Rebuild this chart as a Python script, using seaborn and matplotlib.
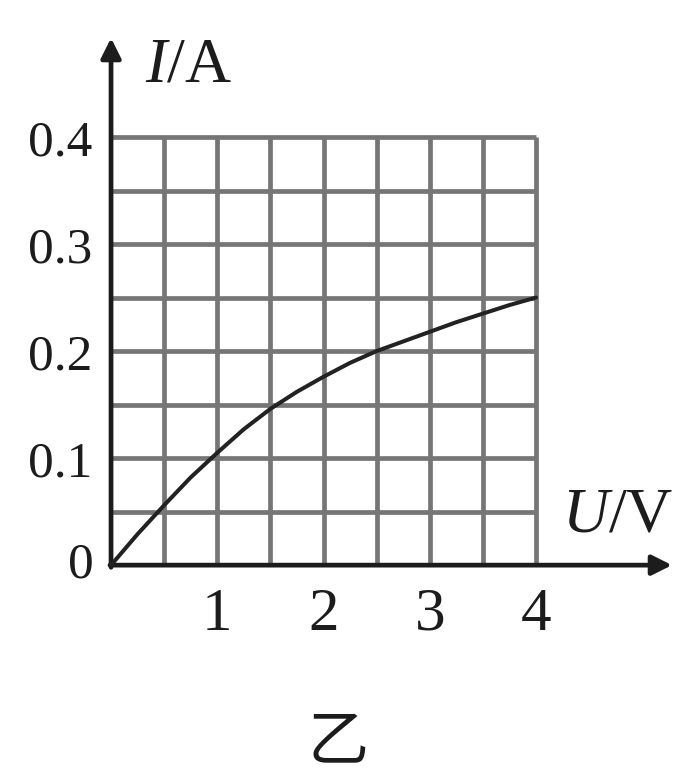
import numpy as np
import matplotlib
matplotlib.use("Agg")
import matplotlib.pyplot as plt
import seaborn as sns

# I-U characteristic of the lamp (U in volts, I in amperes)
voltage = [0, 0.25, 0.5, 0.75, 1.0, 1.25, 1.5, 1.75, 2.0, 2.25, 2.5,
           2.75, 3.0, 3.25, 3.5, 3.75, 4.0]
current = [0, 0.029, 0.056, 0.082, 0.105, 0.127, 0.146, 0.162, 0.176, 0.189, 0.200,
           0.209, 0.218, 0.227, 0.235, 0.243, 0.250]

x_ticks = [1, 2, 3, 4]
x_tick_labels = ["1", "2", "3", "4"]
y_ticks = [0.1, 0.2, 0.3, 0.4]
y_tick_labels = ["0.1", "0.2", "0.3", "0.4"]

u_max, i_max = 4.0, 0.4
u_step, i_step = 0.5, 0.05

sns.set_style("white")
plt.rcParams["font.family"] = ["Liberation Serif", "Noto Sans CJK SC", "DejaVu Sans"]
plt.rcParams["mathtext.fontset"] = "custom"
plt.rcParams["mathtext.rm"] = "Liberation Serif"
plt.rcParams["mathtext.it"] = "Liberation Serif:italic"

fig = plt.figure(figsize=(6.75, 7.76), dpi=100)
ax = fig.add_axes([0, 0, 1, 1])
ax.set_xlim(-1.045, 5.308)
ax.set_ylim(-0.197, 0.528)
ax.axis("off")

grid_color = "#767676"
ink = "#1c1c1c"

# square grid of the graph paper
u_lines = np.arange(u_step, u_max + 1e-9, u_step)
i_lines = np.arange(i_step, i_max + 1e-9, i_step)
ax.vlines(u_lines, 0, i_max, colors=grid_color, lw=3.4, zorder=1)
ax.hlines(i_lines, 0, u_max, colors=grid_color, lw=3.4, zorder=1)

# coordinate axes with arrow heads
arrow_kw = dict(arrowstyle="-|>", lw=3.4, color=ink, mutation_scale=30,
                shrinkA=0, shrinkB=0)
ax.annotate("", xy=(5.28, 0), xytext=(-0.01, 0), arrowprops=arrow_kw, zorder=3)
ax.annotate("", xy=(0, 0.4925), xytext=(0, -0.002), arrowprops=arrow_kw, zorder=3)

# the characteristic curve
sns.lineplot(x=voltage, y=current, ax=ax, color="#222222", lw=2.9,
             sort=False, zorder=4)

# tick labels
for t, lab in zip(x_ticks, x_tick_labels):
    ax.text(t, -0.0467, lab, ha="center", va="center", fontsize=44, color=ink)
for t, lab in zip(y_ticks, y_tick_labels):
    ax.text(-0.18, t - 0.006, lab, ha="right", va="center", fontsize=37, color=ink)
ax.text(-0.28, 0, "0", ha="center", va="center", fontsize=37, color=ink)

# axis titles
ax.text(0.73, 0.466, "$I$/A", ha="center", va="center", fontsize=46, color=ink)
ax.text(4.77, 0.0458, "$U$/V", ha="center", va="center", fontsize=46, color=ink)

# panel caption
ax.text(2.136, -0.1654, "乙", ha="center", va="center", fontsize=44,
        family=["Noto Sans CJK SC"], color=ink)

fig.savefig("out.png", dpi=100, facecolor="white")
